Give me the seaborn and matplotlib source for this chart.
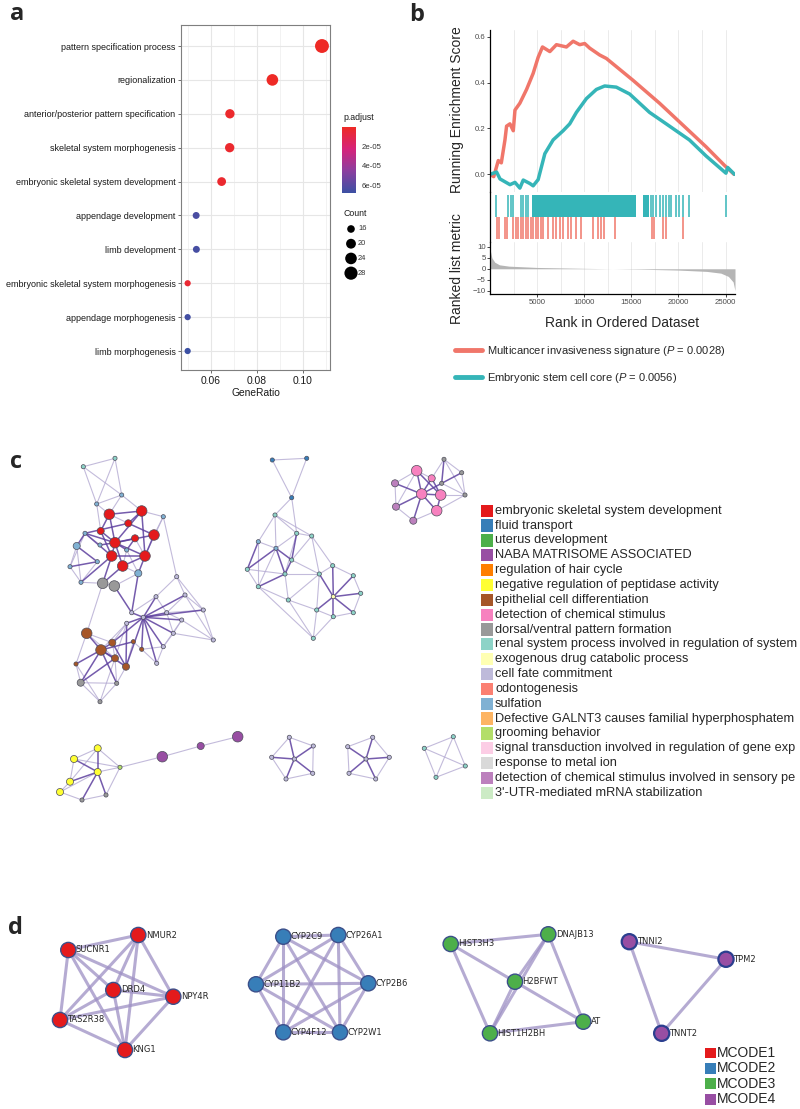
import numpy as np
import pandas as pd
import matplotlib
matplotlib.use('Agg')
import matplotlib.pyplot as plt
import seaborn as sns
from matplotlib.colors import LinearSegmentedColormap, Normalize
from matplotlib.cm import ScalarMappable
from matplotlib.lines import Line2D

sns.set_style('white')
plt.rcParams['font.family'] = ['Liberation Sans', 'DejaVu Sans']
plt.rcParams['mathtext.fontset'] = 'custom'
plt.rcParams['mathtext.it'] = 'Liberation Sans:italic'
plt.rcParams['mathtext.rm'] = 'Liberation Sans'

# ---------------- panel a: GO dot plot ----------------
go_terms = ['pattern specification process', 'regionalization',
            'anterior/posterior pattern specification', 'skeletal system morphogenesis',
            'embryonic skeletal system development', 'appendage development',
            'limb development', 'embryonic skeletal system morphogenesis',
            'appendage morphogenesis', 'limb morphogenesis']
gene_ratio = [0.1084, 0.0868, 0.0683, 0.0682, 0.0647, 0.0536, 0.0537, 0.0499, 0.0499, 0.0499]
gene_count = [30, 24, 19, 19, 18, 15, 15, 14, 14, 14]
p_adjust = [1e-7, 6e-7, 2e-6, 2.5e-6, 3e-6, 6.4e-5, 6.5e-5, 4e-6, 6.6e-5, 6.8e-5]
count_legend = [16, 20, 24, 28]
padj_ticks = [2e-5, 4e-5, 6e-5]

# ---------------- panel b: GSEA ----------------
red_rank = [0, 400, 880, 1200, 1587, 1760, 2116, 2470, 2650, 3170, 3880, 4580, 5110, 5570,
            6350, 7050, 8110, 8820, 9520, 10050, 10580, 11640, 12350, 15170, 17990, 20460,
            22930, 24860, 25900]
red_es = [0.0, -0.01, 0.06, 0.05, 0.15, 0.21, 0.22, 0.19, 0.28, 0.31, 0.37, 0.44, 0.51, 0.555,
          0.535, 0.565, 0.555, 0.58, 0.565, 0.57, 0.55, 0.52, 0.505, 0.41, 0.31, 0.215,
          0.12, 0.04, 0.0]
teal_rank = [0, 700, 1060, 2120, 2650, 3170, 3530, 4230, 4580, 5110, 5820, 6700, 7760, 8460,
             9170, 10230, 11290, 12170, 13400, 14820, 16930, 18700, 19750, 21160, 22930,
             25040, 25220, 25950]
teal_es = [0.0, 0.01, -0.02, -0.045, -0.035, -0.06, -0.025, -0.04, -0.05, -0.023, 0.09, 0.15,
           0.19, 0.22, 0.27, 0.33, 0.37, 0.385, 0.38, 0.35, 0.27, 0.22, 0.19, 0.15, 0.08,
           0.005, 0.03, 0.0]
teal_hits = [630, 1940, 2230, 2470, 3240, 3530, 3810, 4050, 17050, 17350, 17650, 18000, 18350,
             18700, 18980, 19230, 19750, 20110, 20460, 21160, 25040]
teal_blocks = [(4500, 15450), (16230, 16900)]
red_hits = [705, 952, 1587, 1834, 2469, 2716, 2998, 3245, 3527, 3809, 4056, 4303, 4585, 4832,
            5114, 5361, 5643, 6172, 6701, 7054, 7406, 7759, 8288, 8640, 9169, 9698, 10932,
            11461, 11814, 12061, 13225, 17210, 17457, 18339, 18692, 20455]
metric_rank = [0, 200, 500, 1000, 2000, 5000, 10000, 13000, 16000, 20000, 23000, 24500,
               25300, 25800, 26000]
metric_val = [9, 5, 3, 1.8, 1.2, 0.6, 0.2, 0.0, -0.2, -0.6, -1.2, -2.0, -3.5, -6.0, -10.0]
gsea_labels = ['Multicancer invasiveness signature ($\\mathit{P}$ = 0.0028)',
               'Embryonic stem cell core ($\\mathit{P}$ = 0.0056)']

# ---------------- panel c: enrichment network ----------------
legend_terms = ['embryonic skeletal system development', 'fluid transport', 'uterus development',
                'NABA MATRISOME ASSOCIATED', 'regulation of hair cycle',
                'negative regulation of peptidase activity', 'epithelial cell differentiation',
                'detection of chemical stimulus', 'dorsal/ventral pattern formation',
                'renal system process involved in regulation of system',
                'exogenous drug catabolic process', 'cell fate commitment', 'odontogenesis',
                'sulfation', 'Defective GALNT3 causes familial hyperphosphatem',
                'grooming behavior', 'signal transduction involved in regulation of gene exp',
                'response to metal ion', 'detection of chemical stimulus involved in sensory pe',
                "3'-UTR-mediated mRNA stabilization"]
term_colors = ['#e41a1c', '#377eb8', '#4daf4a', '#984ea3', '#ff7f00', '#ffff33', '#a65628',
               '#f781bf', '#999999', '#8dd3c7', '#ffffb3', '#bebada', '#fb8072', '#80b1d3',
               '#fdb462', '#b3de69', '#fccde5', '#d9d9d9', '#bc80bd', '#ccebc5']

# nodes: (x, y, term, size class) in layout units
nodes_a = [(83.3, 466.7, 9, 1), (115.0, 458.3, 9, 1), (121.7, 495.0, 13, 1), (96.7, 504.0, 13, 1),
           (109.3, 514.3, 0, 3), (141.7, 511.0, 0, 3), (100.7, 531.0, 0, 2), (128.3, 523.3, 0, 2),
           (115.0, 542.7, 0, 3), (135.0, 538.3, 0, 2), (154.0, 535.0, 0, 3), (111.7, 556.0, 0, 3),
           (145.0, 556.0, 0, 3), (122.7, 566.0, 0, 3), (85.0, 533.3, 13, 1), (76.7, 546.0, 13, 2),
           (70.0, 566.7, 13, 1), (81.0, 582.3, 13, 1), (100.0, 545.0, 13, 1), (97.3, 561.7, 13, 1),
           (126.7, 550.0, 13, 1), (138.3, 573.3, 13, 2), (163.3, 516.7, 13, 1), (102.7, 583.3, 8, 3),
           (114.3, 586.0, 8, 3), (176.7, 576.7, 11, 1), (185.0, 595.0, 11, 1), (203.3, 610.0, 11, 1),
           (213.3, 640.0, 11, 1), (156.0, 596.7, 11, 1), (166.7, 612.7, 11, 1), (181.7, 620.0, 11, 1),
           (131.7, 612.7, 11, 1), (143.3, 617.3, 11, 1), (126.7, 623.3, 11, 1), (173.3, 633.3, 11, 1),
           (163.3, 646.7, 11, 1), (156.7, 663.3, 11, 1), (86.7, 633.3, 6, 3), (112.3, 642.7, 6, 2),
           (101.0, 650.0, 6, 3), (115.0, 658.3, 6, 2), (126.0, 666.7, 6, 2), (76.0, 664.0, 6, 1),
           (80.7, 682.7, 8, 2), (116.7, 683.3, 8, 1), (100.0, 701.7, 8, 1), (133.3, 641.7, 6, 1),
           (141.7, 649.3, 6, 1)]
links_a_strong = [(8, 4), (8, 5), (8, 6), (8, 9), (8, 10), (8, 11), (8, 12), (8, 13), (8, 14), (8, 18),
                  (8, 20), (11, 14), (11, 6), (11, 12), (11, 17), (11, 23), (12, 5), (12, 10), (12, 13),
                  (12, 21), (5, 4), (5, 7), (4, 6), (14, 15), (15, 19), (16, 19), (20, 9), (24, 32),
                  (21, 32), (33, 26), (33, 27), (33, 29), (33, 30), (33, 31), (33, 35), (33, 36),
                  (33, 37), (33, 34), (33, 32), (33, 39), (33, 42), (33, 48), (40, 38), (40, 39),
                  (40, 41), (40, 42), (40, 43), (40, 44), (40, 45), (40, 47), (41, 44), (39, 42),
                  (42, 34), (13, 23), (7, 14), (10, 7)]
links_a_weak = [(0, 1), (0, 2), (1, 2), (1, 3), (0, 3), (2, 3), (2, 5), (3, 4), (2, 4), (3, 6), (4, 7),
                (14, 16), (14, 18), (15, 16), (15, 17), (16, 17), (17, 19), (17, 23), (20, 21),
                (21, 13), (21, 24), (23, 24), (22, 5), (22, 10), (22, 12), (22, 25), (25, 26),
                (25, 27), (25, 29), (26, 27), (26, 28), (26, 30), (27, 28), (27, 30), (28, 31),
                (28, 35), (29, 30), (29, 32), (30, 31), (30, 35), (31, 35), (31, 36), (35, 36),
                (36, 37), (34, 39), (34, 40), (34, 41), (23, 38), (38, 39), (38, 43), (38, 41),
                (39, 41), (41, 42), (41, 45), (41, 46), (43, 44), (43, 46), (44, 46), (44, 45),
                (45, 46), (42, 45), (42, 47), (47, 48), (37, 48), (36, 48), (9, 12), (13, 20)]

nodes_b = [(272.3, 460.0, 1, 1), (306.7, 458.3, 1, 1), (291.7, 497.7, 1, 1), (275.0, 515.0, 9, 1),
           (258.3, 541.7, 13, 1), (276.0, 548.3, 13, 1), (296.7, 533.3, 9, 1), (311.7, 536.0, 9, 1),
           (247.3, 569.3, 9, 1), (258.3, 586.7, 9, 1), (285.0, 574.0, 9, 1), (291.7, 560.0, 9, 1),
           (288.3, 600.0, 9, 1), (319.3, 574.0, 9, 1), (332.7, 565.7, 9, 1), (353.3, 575.7, 9, 1),
           (360.7, 593.3, 9, 1), (333.3, 596.7, 10, 1), (353.3, 612.7, 9, 1), (316.7, 610.0, 9, 1),
           (333.3, 616.7, 9, 1), (313.3, 638.3, 9, 1)]
links_b_strong = [(17, 13), (17, 14), (17, 15), (17, 16), (17, 18), (17, 19), (17, 20), (5, 8),
                  (5, 10), (5, 11), (6, 11), (10, 11), (9, 10), (4, 8)]
links_b_weak = [(0, 1), (0, 2), (1, 2), (2, 3), (2, 6), (3, 4), (3, 5), (3, 6), (3, 7), (4, 5),
                (4, 9), (5, 6), (5, 9), (6, 7), (6, 10), (7, 11), (7, 13), (8, 9), (8, 10), (9, 12),
                (10, 12), (11, 13), (12, 13), (12, 19), (12, 21), (7, 14), (10, 13), (9, 21),
                (13, 14), (14, 15), (15, 16), (16, 18), (18, 20), (20, 19), (19, 13), (19, 21),
                (20, 21)]

nodes_c = [(416.7, 470.7, 7, 3), (431.7, 478.3, 7, 2), (395.0, 483.3, 18, 2), (421.7, 494.0, 7, 3),
           (440.7, 495.0, 7, 3), (436.7, 510.7, 7, 3), (396.0, 506.7, 18, 2), (413.3, 520.7, 18, 2),
           (444.0, 459.3, 8, 1), (461.7, 472.7, 8, 1), (465.0, 495.0, 8, 1), (441.7, 483.3, 8, 1)]
links_c_strong = [(0, 3), (1, 3), (2, 3), (3, 4), (3, 5), (3, 6), (3, 7), (0, 4), (1, 4), (4, 5),
                  (3, 11), (9, 11), (8, 11)]
links_c_weak = [(0, 1), (0, 2), (2, 6), (5, 7), (6, 7), (8, 9), (8, 10), (9, 10), (10, 11), (1, 8),
                (4, 10), (5, 10), (0, 6)]

nodes_d = [(74.0, 759.0, 5, 2), (97.7, 748.3, 5, 2), (70.0, 781.7, 5, 2), (97.7, 772.0, 5, 2),
           (120.0, 767.3, 15, 1), (60.0, 792.0, 5, 2), (82.0, 800.0, 8, 1), (106.0, 795.0, 8, 1),
           (162.3, 756.7, 3, 3), (200.7, 746.0, 3, 2), (237.7, 736.7, 3, 3)]
links_d_strong = [(1, 3), (0, 3), (3, 6), (3, 7), (2, 3)]
links_d_weak = [(0, 1), (0, 2), (1, 4), (3, 4), (0, 4), (2, 5), (3, 5), (5, 6), (6, 7), (4, 7),
                (1, 2), (4, 8), (8, 9), (9, 10)]

nodes_e = [(294.3, 759.0, 11, 1), (289.3, 737.3, 11, 1), (313.3, 746.0, 11, 1), (312.7, 773.3, 11, 1),
           (286.0, 779.0, 11, 1), (271.7, 757.3, 11, 1),
           (366.0, 759.0, 11, 1), (372.7, 737.3, 11, 1), (389.3, 757.3, 11, 1), (375.7, 779.0, 11, 1),
           (349.0, 773.3, 11, 1), (347.7, 746.7, 11, 1),
           (453.3, 736.7, 9, 1), (465.3, 766.0, 9, 1), (436.0, 777.3, 9, 1), (424.3, 748.3, 9, 1)]
links_e_strong = [(0, 1), (0, 2), (0, 3), (0, 4), (0, 5), (6, 7), (6, 8), (6, 9), (6, 10), (6, 11)]
links_e_weak = [(1, 2), (2, 3), (3, 4), (4, 5), (5, 1), (7, 8), (8, 9), (9, 10), (10, 11), (11, 7),
                (12, 13), (13, 14), (14, 15), (15, 12), (12, 14), (13, 15)]

# ---------------- panel d: MCODE ----------------
mcode_genes = ['SUCNR1', 'NMUR2', 'DRD4', 'NPY4R', 'TAS2R38', 'KNG1',
               'CYP2C9', 'CYP26A1', 'CYP11B2', 'CYP2B6', 'CYP4F12', 'CYP2W1',
               'HIST3H3', 'DNAJB13', 'H2BFWT', 'AT', 'HIST1H2BH',
               'TNNI2', 'TPM2', 'TNNT2']
mcode_x = [68.3, 138.3, 113.3, 173.3, 60.0, 125.0,
           283.3, 338.3, 256.0, 368.3, 283.3, 340.0,
           450.7, 548.3, 515.0, 583.3, 490.0,
           629.3, 726.0, 661.7]
mcode_y = [950.0, 935.0, 990.0, 996.7, 1020.0, 1050.0,
           936.7, 935.0, 984.3, 983.3, 1032.3, 1032.3,
           944.0, 934.3, 981.7, 1021.7, 1033.3,
           941.7, 959.3, 1033.3]
mcode_id = [1, 1, 1, 1, 1, 1, 2, 2, 2, 2, 2, 2, 3, 3, 3, 3, 3, 4, 4, 4]
mcode_links = [('SUCNR1', 'NMUR2'), ('SUCNR1', 'DRD4'), ('SUCNR1', 'NPY4R'), ('SUCNR1', 'TAS2R38'),
               ('SUCNR1', 'KNG1'), ('NMUR2', 'DRD4'), ('NMUR2', 'NPY4R'), ('NMUR2', 'TAS2R38'),
               ('NMUR2', 'KNG1'), ('DRD4', 'NPY4R'), ('DRD4', 'TAS2R38'), ('DRD4', 'KNG1'),
               ('NPY4R', 'TAS2R38'), ('NPY4R', 'KNG1'), ('TAS2R38', 'KNG1'),
               ('CYP2C9', 'CYP26A1'), ('CYP2C9', 'CYP11B2'), ('CYP2C9', 'CYP2B6'), ('CYP2C9', 'CYP4F12'),
               ('CYP2C9', 'CYP2W1'), ('CYP26A1', 'CYP11B2'), ('CYP26A1', 'CYP2B6'),
               ('CYP26A1', 'CYP4F12'), ('CYP26A1', 'CYP2W1'), ('CYP11B2', 'CYP2B6'),
               ('CYP11B2', 'CYP4F12'), ('CYP11B2', 'CYP2W1'), ('CYP2B6', 'CYP4F12'),
               ('CYP2B6', 'CYP2W1'), ('CYP4F12', 'CYP2W1'),
               ('HIST3H3', 'DNAJB13'), ('HIST3H3', 'H2BFWT'), ('HIST3H3', 'HIST1H2BH'),
               ('DNAJB13', 'H2BFWT'), ('DNAJB13', 'HIST1H2BH'), ('DNAJB13', 'AT'),
               ('H2BFWT', 'AT'), ('H2BFWT', 'HIST1H2BH'), ('HIST1H2BH', 'AT'),
               ('TNNI2', 'TPM2'), ('TNNI2', 'TNNT2'), ('TPM2', 'TNNT2')]
mcode_names = ['MCODE1', 'MCODE2', 'MCODE3', 'MCODE4']
mcode_colors = ['#e41a1c', '#377eb8', '#4daf4a', '#984ea3']

W, H = 800, 1109
fig = plt.figure(figsize=(W / 100, H / 100), dpi=100)


def box(x0, y0, x1, y1):
    # pixel box (top-left origin) -> figure rect
    return [x0 / W, 1 - y1 / H, (x1 - x0) / W, (y1 - y0) / H]


def panel_label(x, y, s):
    fig.text(x / W, 1 - y / H, s, ha='center', va='center', fontsize=17,
             fontweight='bold', family=['Open Sans', 'DejaVu Sans'])


# ---- a ----
ax_a = fig.add_axes(box(181, 25, 330, 370))
cmap = LinearSegmentedColormap.from_list('padj', ['#ee2a25', '#d6237a', '#8b3f9f', '#3c50a3'])
norm = Normalize(1e-7, 6.8e-5)
df_a = pd.DataFrame({'Description': go_terms, 'GeneRatio': gene_ratio,
                     'Count': gene_count, 'p.adjust': p_adjust})
ax_a.set_axisbelow(True)
sns.scatterplot(data=df_a, x='GeneRatio', y='Description', hue='p.adjust', size='Count',
                palette=cmap, hue_norm=norm, sizes=(20, 100), size_norm=(14, 30),
                legend=False, linewidth=0, ax=ax_a, zorder=3)
ax_a.set_xlim(0.047, 0.1119)
ax_a.set_ylim(len(go_terms) - 0.44, -0.62)
ax_a.set_xticks([0.06, 0.08, 0.10])
ax_a.set_xticklabels(['0.06', '0.08', '0.10'])
ax_a.set_xticks([0.05, 0.07, 0.09, 0.11], minor=True)
ax_a.grid(which='major', color='#e6e6e6', lw=0.8)
ax_a.grid(which='minor', axis='x', color='#f0f0f0', lw=0.6)
ax_a.tick_params(axis='both', which='major', left=True, bottom=True, length=2.5, width=0.6,
                 color='#555555', labelsize=6.5, labelcolor='#1a1a1a', pad=1.5)
ax_a.tick_params(axis='x', labelsize=7.4)
ax_a.tick_params(which='minor', length=0)
for s in ax_a.spines.values():
    s.set_color('#7f7f7f')
    s.set_linewidth(0.8)
ax_a.set_xlabel('GeneRatio', fontsize=7.4, labelpad=1.5, color='#1a1a1a')
ax_a.set_ylabel('')

cax = fig.add_axes(box(342, 127, 356, 193))
cb = fig.colorbar(ScalarMappable(norm=norm, cmap=cmap), cax=cax)
cax.invert_yaxis()
cb.set_ticks(padj_ticks)
cb.set_ticklabels(['2e-05', '4e-05', '6e-05'])
cb.outline.set_visible(False)
cax.tick_params(length=2, width=0.5, color='white', labelsize=5.6, labelcolor='#333333', pad=2)
fig.text(343 / W, 1 - 118 / H, 'p.adjust', fontsize=6.3, va='center', color='#1a1a1a')

ax_cnt = fig.add_axes(box(340, 220, 380, 282))
ax_cnt.set_xlim(340, 380)
ax_cnt.set_ylim(3.6, -0.61)
ax_cnt.axis('off')
ax_cnt.scatter([351] * len(count_legend), range(len(count_legend)),
               s=np.interp(count_legend, [14, 30], [20, 100]), color='black', lw=0)
for i, c in enumerate(count_legend):
    ax_cnt.text(358, i, str(c), fontsize=5.4, va='center', color='#333333')
fig.text(343 / W, 1 - 214 / H, 'Count', fontsize=6.3, va='center', color='#1a1a1a')
panel_label(17, 14, 'a')

# ---- b ----
red_c, teal_c = '#f0766a', '#35b5b8'
ax_es = fig.add_axes(box(490, 30, 735, 192))
ax_hit = fig.add_axes(box(490, 192, 735, 242))
ax_rank = fig.add_axes(box(490, 242, 735, 294))
for ax in (ax_es, ax_hit, ax_rank):
    ax.set_xlim(0, 26000)
    ax.set_facecolor('none')
    for s in ('top', 'right', 'bottom'):
        ax.spines[s].set_visible(False)
    ax.spines['left'].set_color('black')
    ax.spines['left'].set_linewidth(0.9)
    ax.set_xticks(range(5000, 26000, 5000))
    ax.set_xticks(range(2500, 26000, 5000), minor=True)
    ax.set_axisbelow(True)
for ax in (ax_es, ax_rank):
    ax.grid(axis='x', which='both', color='#ebebeb', lw=0.7)
    ax.tick_params(axis='y', left=True, length=2, width=0.6, labelsize=5.6,
                   labelcolor='#4d4d4d', pad=1)

sns.lineplot(x=red_rank, y=red_es, ax=ax_es, color=red_c, lw=2.5, estimator=None)
sns.lineplot(x=teal_rank, y=teal_es, ax=ax_es, color=teal_c, lw=2.5, estimator=None)
ax_es.set_ylim(-0.077, 0.629)
ax_es.set_yticks([0, 0.2, 0.4, 0.6])
ax_es.set_yticklabels(['0.0', '0.2', '0.4', '0.6'])
ax_es.tick_params(axis='x', bottom=False, labelbottom=False)

ax_hit.set_ylim(0, 1)
ax_hit.vlines(teal_hits, 0.505, 0.945, color=teal_c, lw=1.1)
for a0, a1 in teal_blocks:
    ax_hit.fill_between([a0, a1], 0.505, 0.945, color=teal_c, lw=0)
ax_hit.vlines(red_hits, 0.06, 0.5, color=red_c, lw=1.1)
ax_hit.set_yticks([])
ax_hit.tick_params(axis='x', bottom=False, labelbottom=False)

ax_rank.fill_between(metric_rank, metric_val, 0, color='#b5b5b5', lw=0)
ax_rank.set_ylim(-11.5, 12.2)
ax_rank.set_yticks([10, 5, 0, -5, -10])
ax_rank.spines['bottom'].set_visible(True)
ax_rank.spines['bottom'].set_color('black')
ax_rank.spines['bottom'].set_linewidth(0.9)
ax_rank.tick_params(axis='x', bottom=True, length=2, width=0.6, labelsize=5.6,
                    labelcolor='#4d4d4d', pad=1.5)
ax_rank.tick_params(axis='x', which='minor', length=0)

fig.text(457 / W, 1 - 110 / H, 'Running Enrichment Score', rotation=90, fontsize=10,
         ha='center', va='center')
fig.text(457 / W, 1 - 269 / H, 'Ranked list metric', rotation=90, fontsize=10,
         ha='center', va='center')
fig.text(622 / W, 1 - 323 / H, 'Rank in Ordered Dataset', fontsize=10,
         ha='center', va='center')
handles = [Line2D([], [], color=red_c, lw=3.5), Line2D([], [], color=teal_c, lw=3.5)]
fig.legend(handles, gsea_labels, loc='upper left', bbox_to_anchor=(455 / W, 1 - 344 / H),
           frameon=False, fontsize=8, handlelength=2.4, handletextpad=0.45,
           labelspacing=1.15, borderaxespad=0, borderpad=0)
panel_label(417, 15, 'b')

# ---- c ----
ax_c = fig.add_axes(box(0, 430, 470, 810))
ax_c.set_xlim(0, 470)
ax_c.set_ylim(810, 430)
ax_c.axis('off')
size_map = {1: 9, 2: 26, 3: 58}
for nodes, strong, weak in [(nodes_a, links_a_strong, links_a_weak),
                            (nodes_b, links_b_strong, links_b_weak),
                            (nodes_c, links_c_strong, links_c_weak),
                            (nodes_d, links_d_strong, links_d_weak),
                            (nodes_e, links_e_strong, links_e_weak)]:
    for i, j in weak:
        ax_c.plot([nodes[i][0], nodes[j][0]], [nodes[i][1], nodes[j][1]],
                  color='#b4aad2', lw=0.8, alpha=0.8, zorder=1, solid_capstyle='round')
    for i, j in strong:
        ax_c.plot([nodes[i][0], nodes[j][0]], [nodes[i][1], nodes[j][1]],
                  color='#5d3f9e', lw=1.1, alpha=0.85, zorder=2, solid_capstyle='round')
    ax_c.scatter([n[0] for n in nodes], [n[1] for n in nodes],
                 s=[size_map[n[3]] for n in nodes], c=[term_colors[n[2]] for n in nodes],
                 edgecolors='#4d4d5a', linewidths=0.5, zorder=3)

ax_leg = fig.add_axes(box(470, 500, 800, 800))
ax_leg.set_xlim(470, 800)
ax_leg.set_ylim(19.48, -0.72)
ax_leg.axis('off')
ax_leg.scatter([487] * len(legend_terms), range(len(legend_terms)), marker='s', s=78,
               c=term_colors, lw=0)
for i, t in enumerate(legend_terms):
    ax_leg.text(495, i, t, fontsize=9.2, va='center', clip_on=False)
panel_label(16, 462, 'c')

# ---- d ----
ax_d = fig.add_axes(box(0, 900, 800, 1109))
ax_d.set_xlim(0, 800)
ax_d.set_ylim(1109, 900)
ax_d.axis('off')
pos = {g: (x, y) for g, x, y in zip(mcode_genes, mcode_x, mcode_y)}
for g1, g2 in mcode_links:
    ax_d.plot([pos[g1][0], pos[g2][0]], [pos[g1][1], pos[g2][1]], color='#9d8fc4',
              lw=2.2, alpha=0.75, zorder=1)
node_cols = [mcode_colors[m - 1] for m in mcode_id]
node_edge = ['#3b4f8a' if m != 4 else '#2b3f8f' for m in mcode_id]
ax_d.scatter(mcode_x, mcode_y, s=120, c=node_cols, edgecolors=node_edge,
             linewidths=[1.0 if m != 4 else 1.6 for m in mcode_id], zorder=3)
for g, x, y in zip(mcode_genes, mcode_x, mcode_y):
    ax_d.text(x + 7.5, y, g, fontsize=6, va='center', ha='left', zorder=4,
              family=['DejaVu Sans'])

ax_ml = fig.add_axes(box(700, 1045, 800, 1109))
ax_ml.set_xlim(700, 800)
ax_ml.set_ylim(3.64, -0.52)
ax_ml.axis('off')
ax_ml.scatter([710.5] * 4, range(4), marker='s', s=62, c=mcode_colors, lw=0)
for i, t in enumerate(mcode_names):
    ax_ml.text(717, i, t, fontsize=10, va='center')
panel_label(15, 928, 'd')

fig.savefig('out.png', dpi=100)
